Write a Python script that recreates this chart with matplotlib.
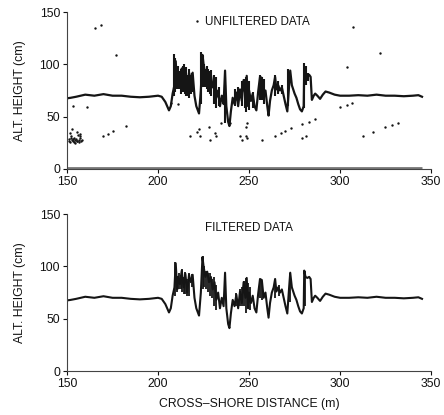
#!/usr/bin/env python

import numpy as np
import matplotlib
matplotlib.use("Agg")
import matplotlib.pyplot as plt

plt.rcParams['font.family'] = ['Liberation Sans', 'DejaVu Sans']

# profile (cross-shore distance m, height cm)
prof_x = [150, 152, 155, 160, 165, 170, 175, 180, 185, 190, 195, 200, 202,
          204, 206, 207, 208, 209, 209.7, 210.5, 211, 212, 213, 214, 215,
          216, 217, 218, 219, 220, 221, 222.5, 223.5, 224.4, 225, 226, 227,
          228, 229, 230, 231, 232, 233, 234, 235, 236, 236.8, 237.5, 238.5,
          239.2, 240, 241, 242, 243, 244, 245, 246, 247, 248, 248.7, 249.5,
          250, 251, 252, 253, 254, 255, 256, 257, 258, 259, 260, 260.7,
          261.5, 262.5, 263.5, 264.3, 265, 266, 267, 268, 269, 270, 271,
          272, 272.6, 273.5, 275, 276, 277, 278, 279, 280, 280.3, 281, 282,
          283, 283.8, 284.5, 285.5, 286.3, 287.5, 289, 290.5, 292, 294, 297,
          300, 305, 310, 315, 320, 325, 330, 335, 340, 343, 345]
prof_y = [67.5, 68, 69, 71, 70, 71.5, 70, 70, 69, 68.5, 69, 70, 69,
          64, 56, 60, 72, 80, 103, 78, 90, 83, 96, 80, 93,
          75, 92, 85, 92, 70, 60, 53, 75, 109, 100, 90, 95,
          85, 90, 78, 85, 68, 75, 60, 70, 62, 94, 60, 45,
          41, 55, 68, 62, 73, 60, 76, 65, 85, 70, 89, 60,
          75, 65, 72, 60, 56, 74, 88, 87, 70, 75, 60, 51,
          65, 75, 80, 88, 76, 80, 75, 78, 70, 62, 55,
          80, 94, 80, 72, 68, 62, 57, 55, 60, 96, 90, 89,
          90, 88, 66, 70, 72, 70, 67, 71, 74, 73, 71,
          70, 70, 70.5, 70, 71, 70, 70, 69.5, 70, 70.5, 69]

# vertical streaks of scattered returns in the rough zone (x, low, high)
filt_st_x = [209.5, 210.5, 211.5, 212.5, 213, 214, 215, 216, 217, 218.5,
             224.5, 225.5, 226.5, 227.5, 228.5, 229.5, 230.5, 232, 243, 245,
             246, 247, 248.5, 249.5, 250.5, 256, 257, 264.5, 266.5, 272.5,
             280.5]
filt_st_lo = [72, 76, 78, 78, 76, 74, 74, 72, 72, 80,
              78, 80, 78, 76, 72, 70, 62, 58, 62, 62,
              62, 62, 55, 60, 58, 70, 68, 70, 72, 66, 62]
filt_st_hi = [104, 90, 94, 92, 98, 90, 95, 88, 94, 93,
              110, 100, 96, 94, 94, 88, 90, 82, 75, 78,
              80, 86, 89, 84, 80, 88, 86, 88, 82, 94, 96]

raw_st_x = [208.5, 209.5, 210.5, 211, 212, 212.5, 213.5, 214, 215, 215.5,
            216.5, 217, 218, 218.5, 223.5, 224.5, 225.5, 226, 227, 227.5,
            228.5, 229, 230.5, 232, 233.5, 236.5, 242, 244, 246, 247.5,
            248.5, 250, 252, 256, 257, 258, 264.5, 266, 268, 271.5, 280.3,
            281.5, 282.5]
raw_st_lo = [70, 74, 76, 76, 76, 72, 74, 74, 72, 70,
             70, 68, 72, 74, 62, 78, 80, 78, 76, 74,
             72, 70, 62, 58, 60, 44, 60, 62, 60, 58,
             54, 56, 58, 66, 66, 62, 70, 72, 72, 60, 58,
             80, 84]
raw_st_hi = [110, 106, 96, 98, 94, 96, 98, 100, 94, 97,
             90, 96, 90, 92, 112, 108, 100, 96, 98, 96,
             94, 95, 90, 88, 78, 80, 76, 78, 84, 86,
             88, 84, 74, 90, 88, 86, 90, 84, 80, 96, 101,
             98, 92]

# stray points in the unfiltered record
out_x = [165.4, 168.5, 176.7, 161.2, 153, 221.2, 307.3, 322, 304,
         300.2, 303.7, 306.4, 170, 172.3, 175.5, 182.4, 207, 211.2,
         217.6, 221.2, 222.7, 223.2, 228, 228.6, 231.3, 231.8, 234.4,
         239.6, 245, 246.3, 248.2, 249.1, 248.4, 248.7, 257.3,
         264, 267.6, 269.8, 273.1, 279.1, 282.8, 286.3, 279.1, 281.1,
         312.8, 318.3, 324.7, 328.4, 332,
         150.8, 151.3, 151.8, 152.2, 152.7, 153.1, 153.6, 154.0, 154.5,
         155.0, 155.4, 155.9, 156.3, 156.8, 157.2, 157.7, 151.5, 152.9,
         154.2, 155.6, 156.9, 153.4, 155.2, 157.0, 152.0, 158.2]
out_y = [135, 138, 109, 59.6, 60, 141.7, 136, 111, 97,
         59.6, 60.8, 63.4, 31.8, 33, 36.3, 41, 62.7, 61.8,
         31, 35.7, 38, 31, 40.4, 27.7, 34, 31, 44,
         43.6, 31, 27.7, 31.5, 30, 40.5, 43.6, 27.7,
         31.5, 34, 36.3, 38.9, 42.7, 44.9, 47.5, 29.3, 31,
         31.5, 35.7, 40.4, 41.7, 44.3,
         27, 29, 26, 31, 28, 27, 30, 26, 28,
         29, 27, 32, 28, 26, 30, 27, 34, 38,
         25, 35, 33, 29, 27, 31, 30, 28]

# dropouts recorded as zero height
zero_x = [150, 345]
zero_y = [0.6, 0.6]

fig = plt.figure(figsize=(4.44, 4.15), dpi=100)
ax1 = fig.add_axes([0.151, 0.593, 0.82, 0.378])
ax2 = fig.add_axes([0.151, 0.106, 0.82, 0.378])

ink = '#151515'

ax1.plot(zero_x, zero_y, color='#777777', lw=2.0, solid_capstyle='butt')
ax1.plot(prof_x, prof_y, color=ink, lw=1.6)
ax1.vlines(raw_st_x, raw_st_lo, raw_st_hi, color=ink, lw=1.5)
ax1.scatter(out_x, out_y, s=3, color=ink, lw=0)
ax1.text(254.5, 140, 'UNFILTERED DATA', ha='center', va='center',
         fontsize=8.4, color='#111111')

ax2.plot(prof_x, prof_y, color=ink, lw=1.5)
ax2.vlines(filt_st_x, filt_st_lo, filt_st_hi, color=ink, lw=1.3)
ax2.text(250, 137, 'FILTERED DATA', ha='center', va='center',
         fontsize=8.4, color='#111111')
ax2.set_xlabel('CROSS\u2013SHORE DISTANCE (m)', fontsize=8.8, labelpad=6,
               color='#111111')

for ax in (ax1, ax2):
    ax.set_xlim(150, 350)
    ax.set_ylim(0, 150)
    ax.set_xticks([150, 200, 250, 300, 350])
    ax.set_yticks([0, 50, 100, 150])
    ax.spines['top'].set_visible(False)
    ax.spines['right'].set_visible(False)
    ax.spines['left'].set_color('#444444')
    ax.spines['bottom'].set_color('#444444')
    ax.tick_params(direction='out', length=3, width=0.8, labelsize=8.8,
                   colors='#111111', pad=2)
    ax.set_ylabel('ALT. HEIGHT (cm)', fontsize=8.8, labelpad=10,
                  color='#111111')

fig.savefig('out.png', dpi=100)
